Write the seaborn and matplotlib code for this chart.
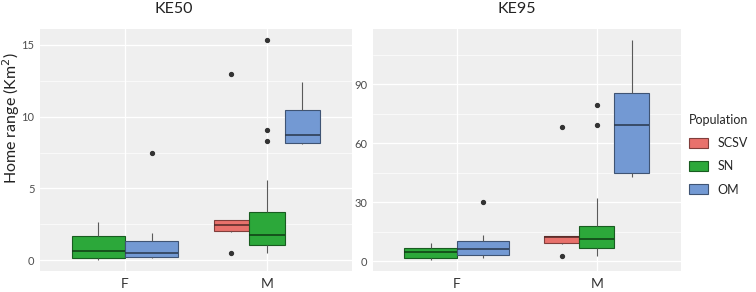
import matplotlib
matplotlib.use("Agg")
import matplotlib.pyplot as plt
import matplotlib.colors as mcolors
from matplotlib.patches import Patch
from matplotlib.ticker import FixedLocator
import numpy as np
import pandas as pd
import seaborn as sns

# ---------------- data ----------------
populations = ["SCSV", "SN", "OM"]
sexes = ["F", "M"]
pop_colors = ["#E8716C", "#2CA83A", "#7399D3"]
panels = ["KE50", "KE95"]
ke50_ticks = [0, 5, 10, 15]
ke95_ticks = [0, 30, 60, 90]

# KE50 (Km2)
ke50_F_SN = [0.05, 0.10, 0.16, 0.40, 0.65, 1.20, 1.72, 2.20, 2.67]
ke50_F_OM = [0.16, 0.20, 0.23, 0.35, 0.47, 0.90, 1.33, 1.90, 7.47]
ke50_M_SCSV = [0.49, 2.00, 2.10, 2.49, 2.74, 2.80, 13.00]
ke50_M_SN = [0.51, 0.70, 0.85, 1.00, 1.09, 1.20, 1.40, 1.60, 1.74,
             2.10, 2.50, 3.00, 3.35, 5.58, 8.28, 9.09, 15.35]
ke50_M_OM = [8.10, 8.19, 8.74, 10.44, 12.44]

# KE95 (Km2)
ke95_F_SN = [0.85, 1.50, 1.87, 3.00, 4.42, 5.50, 6.79, 8.00, 9.17]
ke95_F_OM = [1.70, 2.50, 3.40, 5.00, 6.28, 8.00, 10.19, 13.20, 30.06]
ke95_M_SCSV = [2.70, 8.50, 9.50, 12.20, 12.40, 12.74, 68.30]
ke95_M_SN = [2.50, 3.50, 4.80, 5.90, 6.62, 8.00, 9.30, 10.50, 11.38,
             13.00, 14.80, 16.50, 17.83, 24.00, 31.90, 69.45, 79.60]
ke95_M_OM = [43.00, 44.66, 69.28, 85.40, 112.40]

groups = [
    ("KE50", "F", "SN", ke50_F_SN), ("KE50", "F", "OM", ke50_F_OM),
    ("KE50", "M", "SCSV", ke50_M_SCSV), ("KE50", "M", "SN", ke50_M_SN),
    ("KE50", "M", "OM", ke50_M_OM),
    ("KE95", "F", "SN", ke95_F_SN), ("KE95", "F", "OM", ke95_F_OM),
    ("KE95", "M", "SCSV", ke95_M_SCSV), ("KE95", "M", "SN", ke95_M_SN),
    ("KE95", "M", "OM", ke95_M_OM),
]
rows = []
for metric, sex, pop, vals in groups:
    for v in vals:
        rows.append({"Metric": metric, "Sex": sex, "Population": pop, "Value": v})
df = pd.DataFrame(rows)

palette = dict(zip(populations, pop_colors))

# ---------------- style ----------------
sns.set_style("darkgrid", {"axes.facecolor": "#EFEFEF", "grid.color": "white"})
plt.rcParams["font.family"] = ["Lato", "DejaVu Sans"]

W, H = 756, 292
fig = plt.figure(figsize=(W / 100, H / 100), dpi=100)
ax_pos = {
    "KE50": [40 / W, 1 - 270.5 / H, (352 - 40) / W, (270.5 - 29) / H],
    "KE95": [373 / W, 1 - 270.5 / H, (681 - 373) / W, (270.5 - 29) / H],
}
tick_map = {"KE50": ke50_ticks, "KE95": ke95_ticks}
title_x = {"KE50": 174, "KE95": 517}


def darker(c, f):
    r, g, b = mcolors.to_rgb(c)
    return (r * f, g * f, b * f)


for metric in panels:
    ax = fig.add_axes(ax_pos[metric])
    sub = df[df["Metric"] == metric]
    for sex in sexes:
        s = sub[sub["Sex"] == sex]
        present = [p for p in populations if p in set(s["Population"])]
        sns.boxplot(
            data=s, x="Sex", y="Value", hue="Population",
            order=sexes, hue_order=present,
            palette={p: palette[p] for p in present},
            saturation=1, width=0.75, dodge=True, whis=1.5,
            linewidth=0.8, legend=False, ax=ax,
            flierprops=dict(marker="o", markerfacecolor="#333333",
                            markeredgecolor="#333333", markersize=2.8),
            whiskerprops=dict(color="#5A5A5A", linewidth=0.8),
            capprops=dict(linewidth=0),
        )
    # recolour box outlines and medians as darker shades of fill
    boxes = []
    for p in ax.patches:
        fc = p.get_facecolor()
        p.set_edgecolor(darker(fc, 0.55))
        p.set_linewidth(0.8)
        ext = p.get_path().get_extents()
        boxes.append((ext, fc))
    for ln in ax.lines:
        xd = np.asarray(ln.get_xdata(), dtype=float)
        yd = np.asarray(ln.get_ydata(), dtype=float)
        if ln.get_marker() not in (None, "None", "", " "):
            ln.set_markerfacecolor("#333333")
            ln.set_markeredgecolor("#333333")
            ln.set_markersize(2.8)
            continue
        if len(xd) == 2 and yd[0] == yd[1] and xd[0] != xd[1]:
            for ext, fc in boxes:
                if abs(abs(xd[1] - xd[0]) - ext.width) < 1e-6 and \
                        ext.x0 - 1e-6 <= min(xd) and max(xd) <= ext.x1 + 1e-6:
                    ln.set_color(darker(fc, 0.35))
                    ln.set_linewidth(1.1)
                    break
        else:
            ln.set_color("#5A5A5A")

    vals = sub["Value"].to_numpy()
    lo, hi = vals.min(), vals.max()
    pad = (hi - lo) * 0.05
    ax.set_ylim(lo - pad, hi + pad)
    ax.set_xlim(-0.6, 1.6)
    ticks = tick_map[metric]
    ax.set_yticks(ticks)
    ax.set_yticklabels([str(t) for t in ticks])
    step = ticks[1] - ticks[0]
    minors = [t + step / 2 for t in ticks] + [ticks[0] - step / 2]
    minors = [m for m in minors if lo - pad <= m <= hi + pad]
    ax.yaxis.set_minor_locator(FixedLocator(minors))
    ax.grid(True, which="major", color="white", linewidth=0.9)
    ax.grid(True, which="minor", axis="y", color="white", linewidth=0.45)
    ax.set_axisbelow(True)
    ax.set_xlabel("")
    ax.set_ylabel("")
    for sp in ax.spines.values():
        sp.set_visible(False)
    ax.tick_params(axis="y", which="major", length=2.5, width=0.6,
                   color="#444444", labelsize=8, labelcolor="#4D4D4D", pad=1.5)
    ax.tick_params(axis="x", which="major", length=2.5, width=0.6,
                   color="#444444", labelsize=10, labelcolor="#333333", pad=3)
    ax.tick_params(which="minor", length=0)
    fig.text(title_x[metric] / W, 1 - 9 / H, metric, ha="center", va="center",
             fontsize=11.5, color="#222222")

fig.text(11.5 / W, 1 - 118 / H, "Home range (Km$^2$)", rotation=90,
         ha="center", va="center", fontsize=11.5, color="#222222")

handles = [Patch(facecolor=palette[p], edgecolor=darker(palette[p], 0.55),
                 linewidth=0.8) for p in populations]
leg = fig.legend(handles, populations, title="Population",
                 loc="upper left", bbox_to_anchor=(689 / W, 1 - 114 / H),
                 frameon=False, fontsize=9, title_fontsize=9,
                 handlelength=1.5, handleheight=0.85, handletextpad=0.75,
                 labelspacing=0.9, borderaxespad=0, borderpad=0)
leg._legend_box.align = "left"

fig.savefig("out.png", dpi=100)
